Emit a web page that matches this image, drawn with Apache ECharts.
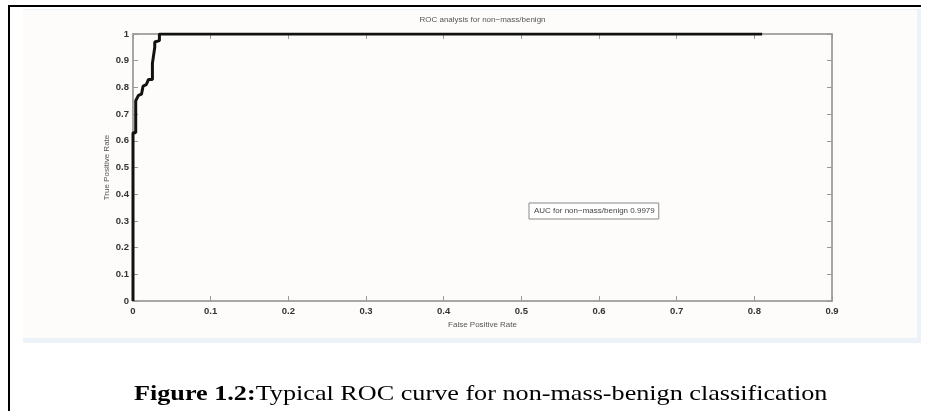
<!DOCTYPE html>
<html>
<head>
<meta charset="utf-8">
<script src="https://cdn.jsdelivr.net/npm/echarts@6/dist/echarts.min.js"></script>
<style>
  html, body { margin: 0; padding: 0; background: #fff; }
  #main { width: 925px; height: 411px; }
</style>
</head>
<body>
<div id="main"></div>
<script>
// ROC curve points [false positive rate, true positive rate]
const rocPoints = [
  [0, 0], [0, 0.63], [0.0035, 0.63], [0.0035, 0.75], [0.007, 0.77],
  [0.011, 0.775], [0.013, 0.775], [0.013, 0.805], [0.017, 0.81],
  [0.02, 0.83], [0.025, 0.83], [0.025, 0.89], [0.028, 0.95],
  [0.028, 0.97], [0.034, 0.975], [0.034, 1], [0.81, 1]
]
const xTicks = [0, 0.1, 0.2, 0.3, 0.4, 0.5, 0.6, 0.7, 0.8, 0.9]
const yTicks = [0, 0.1, 0.2, 0.3, 0.4, 0.5, 0.6, 0.7, 0.8, 0.9, 1]
const aucLabel = 'AUC for non\u2212mass/benign 0.9979'

const chart = echarts.init(document.getElementById('main'))

const narrow = 'Liberation Sans Narrow, Liberation Sans, sans-serif'
const labelFont = { color: '#333', fontSize: 9.5, fontWeight: 'bold', fontFamily: narrow }
const nameFont = { color: '#555', fontSize: 8, fontFamily: narrow }
const boxLine = { show: true, onZero: false, lineStyle: { color: '#8a8a8a', width: 1.5 } }
const tick = { show: true, inside: true, length: 5, lineStyle: { color: '#999' } }

chart.setOption({
  animation: false,
  backgroundColor: '#fff',
  graphic: [
    // page frame
    { type: 'rect', shape: { x: 8, y: 5, width: 913, height: 2 }, style: { fill: '#000' }, z: 0 },
    { type: 'rect', shape: { x: 8, y: 5, width: 2, height: 406 }, style: { fill: '#000' }, z: 0 },
    { type: 'rect', shape: { x: 23, y: 9, width: 898, height: 334 }, style: { fill: '#edf1f8' }, z: 0 },
    { type: 'rect', shape: { x: 23, y: 10, width: 894, height: 328 }, style: { fill: '#fdfcfa' }, z: 0 },
    // caption, a bit stretched like the scanned figure
    {
      type: 'text', x: 134, y: 383, scaleX: 1.19, z: 10,
      style: {
        text: '{b|Figure 1.2:}{n|Typical ROC curve for non-mass-benign classification}',
        rich: {
          b: { fontFamily: 'Liberation Serif', fontWeight: 'bold', fontSize: 22, fill: '#000' },
          n: { fontFamily: 'Liberation Serif', fontWeight: 'normal', fontSize: 22, fill: '#000' }
        }
      }
    }
  ],
  legend: {
    data: [aucLabel],
    left: 529,
    top: 203,
    icon: 'none',
    itemWidth: 0,
    itemHeight: 0,
    padding: [4, 4, 4, 0],
    borderColor: '#888',
    borderWidth: 1,
    backgroundColor: '#fff',
    textStyle: { color: '#444', fontSize: 8, fontFamily: narrow },
    selectedMode: false
  },
  grid: { left: 133, right: 93, top: 34, bottom: 110 },
  xAxis: [
    {
      type: 'value', min: 0, max: 0.9, interval: 0.1, position: 'bottom',
      name: 'False Positive Rate', nameLocation: 'middle', nameGap: 15, nameTextStyle: nameFont,
      axisLine: boxLine, axisTick: tick, splitLine: { show: false },
      axisLabel: Object.assign({ margin: 5, formatter: v => String(+v.toFixed(1)) }, labelFont)
    },
    {
      type: 'value', min: 0, max: 0.9, interval: 0.1, position: 'top',
      name: 'ROC analysis for non\u2212mass/benign', nameLocation: 'middle', nameGap: 10,
      nameTextStyle: nameFont,
      axisLine: boxLine, axisTick: tick, splitLine: { show: false }, axisLabel: { show: false }
    }
  ],
  yAxis: [
    {
      type: 'value', min: 0, max: 1, interval: 0.1, position: 'left',
      name: 'True Positive Rate', nameLocation: 'middle', nameGap: 22, nameMoveOverlap: false,
      nameTextStyle: nameFont,
      axisLine: boxLine, axisTick: tick, splitLine: { show: false },
      axisLabel: Object.assign({ margin: 4, formatter: v => String(+v.toFixed(1)) }, labelFont)
    },
    {
      type: 'value', min: 0, max: 1, interval: 0.1, position: 'right',
      axisLine: boxLine, axisTick: tick, splitLine: { show: false }, axisLabel: { show: false }
    }
  ],
  series: [{
    name: aucLabel,
    type: 'line',
    data: rocPoints,
    showSymbol: false,
    lineStyle: { color: '#111', width: 3 },
    itemStyle: { color: '#111' },
    z: 5
  }]
})
</script>
</body>
</html>
